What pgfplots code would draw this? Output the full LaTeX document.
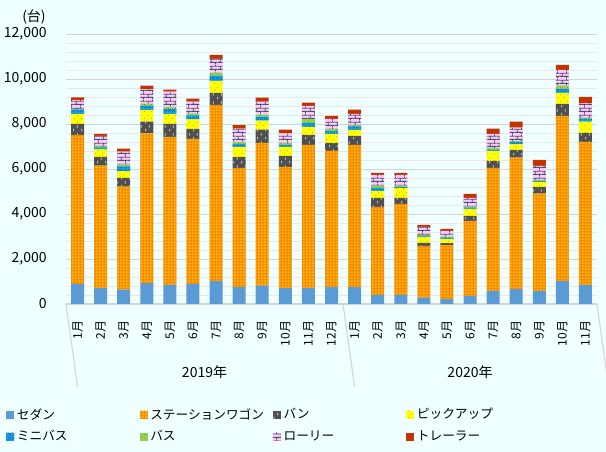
\documentclass[border=0pt]{standalone}
\usepackage{pgfplots}
\pgfplotsset{compat=1.18}
\usepackage{pgfplotstable}
\usetikzlibrary{patterns}
\usepackage{fontspec}
\setmainfont{Noto Sans CJK JP}

\definecolor{bgc}{HTML}{F0FFFF}
\definecolor{sedanc}{HTML}{5B9BD5}
\definecolor{wagonc}{HTML}{FFB000}
\definecolor{wagonl}{HTML}{F07A10}
\definecolor{vanc}{HTML}{505050}
\definecolor{pickc}{HTML}{FFFF00}
\definecolor{pickl}{HTML}{F0A030}
\definecolor{minic}{HTML}{00B0F0}
\definecolor{minil}{HTML}{3060C0}
\definecolor{busc}{HTML}{92D050}
\definecolor{busl}{HTML}{60A030}
\definecolor{lorc}{HTML}{FFC8F8}
\definecolor{lorl}{HTML}{44546A}
\definecolor{trac}{HTML}{C43200}
\definecolor{majg}{HTML}{D4D4D4}
\definecolor{ming}{HTML}{EFE6EC}

\pgfdeclarepatternformonly{fgrid}{\pgfqpoint{0pt}{0pt}}{\pgfqpoint{2.4pt}{2.4pt}}{\pgfqpoint{2.4pt}{2.4pt}}{%
  \pgfsetlinewidth{0.55pt}%
  \pgfpathmoveto{\pgfqpoint{1.2pt}{0pt}}\pgfpathlineto{\pgfqpoint{1.2pt}{2.4pt}}%
  \pgfpathmoveto{\pgfqpoint{0pt}{1.2pt}}\pgfpathlineto{\pgfqpoint{2.4pt}{1.2pt}}%
  \pgfusepath{stroke}}
\pgfdeclarepatternformonly{vdash}{\pgfqpoint{0pt}{0pt}}{\pgfqpoint{6pt}{6pt}}{\pgfqpoint{6pt}{6pt}}{%
  \pgfsetlinewidth{0.6pt}%
  \pgfpathmoveto{\pgfqpoint{1.5pt}{0.6pt}}\pgfpathlineto{\pgfqpoint{1.5pt}{2.6pt}}%
  \pgfpathmoveto{\pgfqpoint{4.5pt}{3.6pt}}\pgfpathlineto{\pgfqpoint{4.5pt}{5.6pt}}%
  \pgfusepath{stroke}}
\pgfdeclarepatternformonly{sdots}{\pgfqpoint{0pt}{0pt}}{\pgfqpoint{5pt}{5pt}}{\pgfqpoint{5pt}{5pt}}{%
  \pgfpathcircle{\pgfqpoint{1.2pt}{1.2pt}}{0.45pt}%
  \pgfpathcircle{\pgfqpoint{3.7pt}{3.5pt}}{0.45pt}%
  \pgfusepath{fill}}
\pgfdeclarepatternformonly{xhatch}{\pgfqpoint{0pt}{0pt}}{\pgfqpoint{3pt}{3pt}}{\pgfqpoint{3pt}{3pt}}{%
  \pgfsetlinewidth{0.4pt}%
  \pgfpathmoveto{\pgfqpoint{0pt}{0pt}}\pgfpathlineto{\pgfqpoint{3pt}{3pt}}%
  \pgfpathmoveto{\pgfqpoint{0pt}{3pt}}\pgfpathlineto{\pgfqpoint{3pt}{0pt}}%
  \pgfusepath{stroke}}
\pgfdeclarepatternformonly{fbricks}{\pgfqpoint{0pt}{0pt}}{\pgfqpoint{7pt}{5pt}}{\pgfqpoint{7pt}{5pt}}{%
  \pgfsetlinewidth{0.65pt}%
  \pgfpathmoveto{\pgfqpoint{0pt}{1.25pt}}\pgfpathlineto{\pgfqpoint{7pt}{1.25pt}}%
  \pgfpathmoveto{\pgfqpoint{0pt}{3.75pt}}\pgfpathlineto{\pgfqpoint{7pt}{3.75pt}}%
  \pgfpathmoveto{\pgfqpoint{1.75pt}{1.25pt}}\pgfpathlineto{\pgfqpoint{1.75pt}{3.75pt}}%
  \pgfpathmoveto{\pgfqpoint{5.25pt}{3.75pt}}\pgfpathlineto{\pgfqpoint{5.25pt}{5pt}}%
  \pgfpathmoveto{\pgfqpoint{5.25pt}{0pt}}\pgfpathlineto{\pgfqpoint{5.25pt}{1.25pt}}%
  \pgfusepath{stroke}}

\pgfplotstableread{
x sedan wagon van pickup minibus bus lorry trailer
0 890 6630 490 445 180 30 400 120
1 710 5440 390 330 90 70 445 90
2 640 4580 390 300 210 90 560 135
3 930 6650 520 530 180 90 640 160
4 845 6585 580 445 210 100 670 90
5 890 6450 445 415 180 90 535 120
6 1020 7830 530 535 240 130 610 180
7 755 5295 490 445 135 90 580 165
8 815 6350 580 400 180 90 580 180
9 710 5385 490 400 90 90 415 165
10 710 6360 445 355 180 180 580 135
11 755 6050 355 400 120 105 445 135
12 755 6320 400 265 150 75 490 180
13 400 3915 400 310 135 105 475 90
14 400 4050 265 430 50 70 475 90
15 280 2300 135 265 45 45 355 90
16 220 2400 90 180 60 45 250 90
17 355 3340 220 310 60 45 385 180
18 580 5470 310 445 60 75 625 225
19 665 5845 340 240 120 45 580 265
20 580 4330 295 225 45 45 620 265
21 1020 7340 535 490 180 150 695 220
22 845 6360 400 505 120 45 640 295
}\datatable

\begin{document}
\begin{tikzpicture}
\path[use as bounding box] (0,0) rectangle (454.5pt,339pt);
\fill[bgc] (0,0) rectangle (454.5pt,339pt);
\begin{axis}[
  at={(49.5pt,111pt)}, anchor=south west,
  scale only axis, width=398.25pt, height=202.5pt,
  ybar stacked, bar width=9.75pt,
  xmin=-0.5, xmax=22.5, ymin=0, ymax=12000,
  clip=false,
  axis lines*=left,
  axis line style={-},
  x axis line style={majg, line width=0.8pt},
  y axis line style={draw=none},
  major tick length=0pt, minor tick length=0pt,
  xtick={0,...,22},
  xticklabels={1月,2月,3月,4月,5月,6月,7月,8月,9月,10月,11月,12月,1月,2月,3月,4月,5月,6月,7月,8月,9月,10月,11月},
  xticklabel shift=9pt,
  xticklabel style={rotate=90, anchor=east, font=\fontsize{9}{10}\selectfont},
  ytick={0,2000,...,12000},
  minor y tick num=4,
  ymajorgrids, yminorgrids,
  major grid style={majg, line width=0.7pt},
  minor grid style={ming, line width=0.6pt},
  yticklabel style={font=\fontsize{10.5}{12}\selectfont, xshift=-11pt},
  /pgf/number format/1000 sep={,},
  /pgf/number format/assume math mode=true,
  scaled y ticks=false,
  legend columns=4,
  legend cell align=left,
  legend style={at={(-45pt,-76pt)}, anchor=north west, draw=none, fill=none,
    font=\fontsize{9.5}{11}\selectfont, inner sep=0pt, row sep=3pt,
    /tikz/every even column/.append style={text width=90pt}},
  legend image code/.code={\draw[#1, draw=none] (0pt,-3pt) rectangle (6pt,3pt);},
]
\addplot[draw=none, fill=sedanc] table[x=x, y=sedan] {\datatable};
\addlegendentry{セダン}
\addplot[draw=none, fill=wagonc, postaction={pattern=fgrid, pattern color=wagonl}] table[x=x, y=wagon] {\datatable};
\addlegendentry{ステーションワゴン}
\addplot[draw=none, fill=vanc, postaction={pattern=vdash, pattern color=white!80!gray}] table[x=x, y=van] {\datatable};
\addlegendentry{バン}
\addplot[draw=none, fill=pickc, postaction={pattern=sdots, pattern color=pickl}] table[x=x, y=pickup] {\datatable};
\addlegendentry{ピックアップ}
\addplot[draw=none, fill=minic, postaction={pattern=xhatch, pattern color=minil}] table[x=x, y=minibus] {\datatable};
\addlegendentry{ミニバス}
\addplot[draw=none, fill=busc, postaction={pattern=sdots, pattern color=busl}] table[x=x, y=bus] {\datatable};
\addlegendentry{バス}
\addplot[draw=none, fill=lorc, postaction={pattern=fbricks, pattern color=lorl}] table[x=x, y=lorry] {\datatable};
\addlegendentry{ローリー}
\addplot[draw=none, fill=trac] table[x=x, y=trailer] {\datatable};
\addlegendentry{トレーラー}

\draw[majg, line width=0.8pt] (axis cs:-0.5,0) -- ++(0,-62pt);
\draw[majg, line width=0.8pt] (axis cs:11.5,0) -- ++(0,-62pt);
\draw[majg, line width=0.8pt] (axis cs:22.5,0) -- ++(0,-62pt);
\node[font=\fontsize{10.5}{12}\selectfont] at ([yshift=-51pt]axis cs:5.5,0) {2019年};
\node[font=\fontsize{10.5}{12}\selectfont] at ([yshift=-51pt]axis cs:17,0) {2020年};
\node[font=\fontsize{10.5}{12}\selectfont, inner sep=0pt] at ([xshift=-24pt, yshift=12.5pt]axis cs:-0.5,12000) {(台)};
\end{axis}
\end{tikzpicture}
\end{document}
